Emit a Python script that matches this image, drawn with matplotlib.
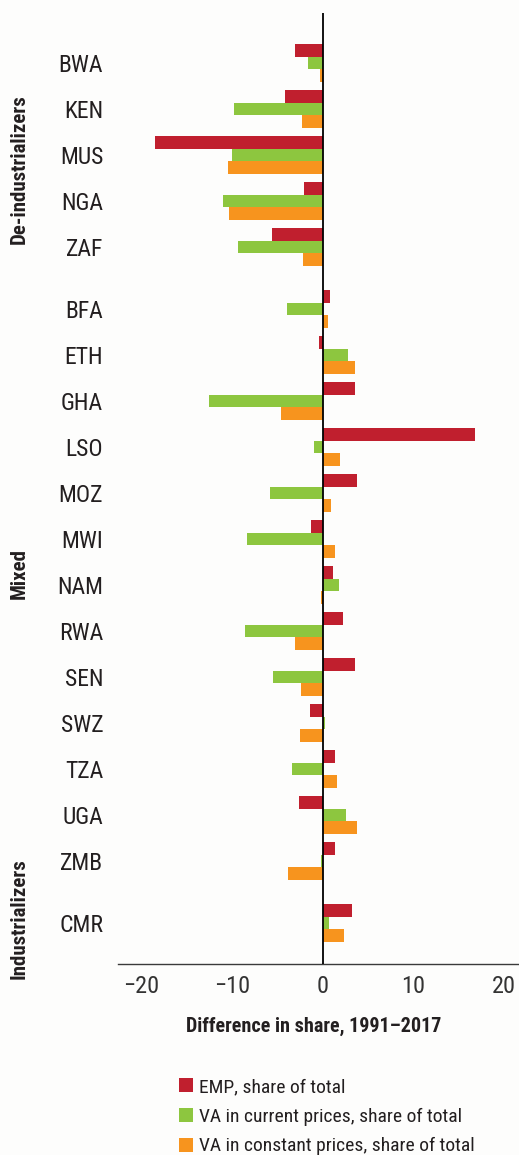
import numpy as np
import matplotlib
matplotlib.use("Agg")
import matplotlib.pyplot as plt
from matplotlib import font_manager
from matplotlib.patches import Patch
from matplotlib.transforms import blended_transform_factory

# Change in sector shares between 1991 and 2017, by country
countries = ['BWA', 'KEN', 'MUS', 'NGA', 'ZAF',
             'BFA', 'ETH', 'GHA', 'LSO', 'MOZ', 'MWI', 'NAM', 'RWA', 'SEN',
             'SWZ', 'TZA', 'UGA', 'ZMB',
             'CMR']
group_names = ['De-industrializers', 'Mixed', 'Industrializers']
group_sizes = [5, 13, 1]

emp_share = [-3.0, -4.2, -18.5, -2.0, -5.6,
             0.85, -0.4, 3.6, 16.8, 3.8, -1.25, 1.2, 2.3, 3.6,
             -1.35, 1.4, -2.6, 1.4,
             3.3]
va_current = [-1.6, -9.8, -10.0, -11.0, -9.3,
              -3.9, 2.85, -12.6, -1.0, -5.8, -8.4, 1.85, -8.55, -5.45,
              0.3, -3.35, 2.6, -0.15,
              0.75]
va_constant = [-0.25, -2.25, -10.4, -10.3, -2.15,
               0.65, 3.6, -4.55, 1.95, 0.95, 1.4, -0.15, -3.1, -2.35,
               -2.45, 1.6, 3.8, -3.8,
               2.4]

series_labels = ['EMP, share of total',
                 'VA in current prices, share of total',
                 'VA in constant prices, share of total']
colors = ['#c01f2e', '#8dc63f', '#f7941e']
xticks = [-20, -10, 0, 10, 20]


def pick_font(candidates):
    names = {f.name for f in font_manager.fontManager.ttflist}
    for c in candidates:
        if c in names:
            return c
    return 'DejaVu Sans'


font = pick_font(['Liberation Sans Narrow', 'Roboto Condensed', 'Open Sans Condensed',
                  'Roboto', 'DejaVu Sans'])
plt.rcParams['font.family'] = [font, 'DejaVu Sans']
text_color = '#231f20'
bg = '#fdfdfc'

# row positions, with an extra gap between country groups
gap = 0.35
ypos = []
y = 0.0
for g, n in enumerate(group_sizes):
    for i in range(n):
        ypos.append(y)
        y += 1
    y += gap
ypos = np.array(ypos)

fig = plt.figure(figsize=(5.19, 11.55), dpi=100, facecolor=bg)
ax = fig.add_axes([118 / 519, 191 / 1155, 401 / 519, 951 / 1155])
ax.set_facecolor(bg)

h = 0.275
for k, (vals, c) in enumerate(zip([emp_share, va_current, va_constant], colors)):
    ax.barh(ypos + (k - 1) * h, vals, height=h, color=c, linewidth=0)

ax.axvline(0, color='black', lw=1.3, zorder=3)
ax.set_xlim(-22.6, 21.7)
ax.set_ylim(ypos[-1] + 0.89, ypos[0] - 1.09)

for s in ['top', 'right', 'left']:
    ax.spines[s].set_visible(False)
ax.spines['bottom'].set_color('#3a3a3a')
ax.spines['bottom'].set_linewidth(1.0)
ax.set_yticks([])
ax.set_xticks(xticks)
ax.tick_params(axis='x', length=0, pad=8, labelsize=17.5, labelcolor='#333333')

trans = blended_transform_factory(ax.transAxes, ax.transData)
for name, yy in zip(countries, ypos):
    ax.text(-0.037, yy + 0.05, name, transform=trans, ha='right', va='center',
            fontsize=17, color=text_color)

# small nudges for the rotated group titles
group_shift = [0.3, -0.25, -0.1]
start = 0
for name, n, dy in zip(group_names, group_sizes, group_shift):
    yc = ypos[start:start + n].mean() + dy
    ax.text(-0.247, yc, name, transform=trans, rotation=90, ha='center',
            va='center', fontsize=15, fontweight='bold', color=text_color)
    start += n

fig.text(314 / 519, 1 - 1026 / 1155, 'Difference in share, 1991\u20132017',
         ha='center', va='center', fontsize=14.5, fontweight='bold', color=text_color)

handles = [Patch(facecolor=c, edgecolor='none') for c in colors]
fig.legend(handles, series_labels, loc='upper left',
           bbox_to_anchor=(175 / 519, 1 - 1074 / 1155), frameon=False,
           fontsize=14, handlelength=0.75, handleheight=0.75, handletextpad=0.3,
           labelspacing=0.6, borderpad=0.2, borderaxespad=0, labelcolor=text_color)

fig.savefig('out.png', dpi=100, facecolor=bg)
